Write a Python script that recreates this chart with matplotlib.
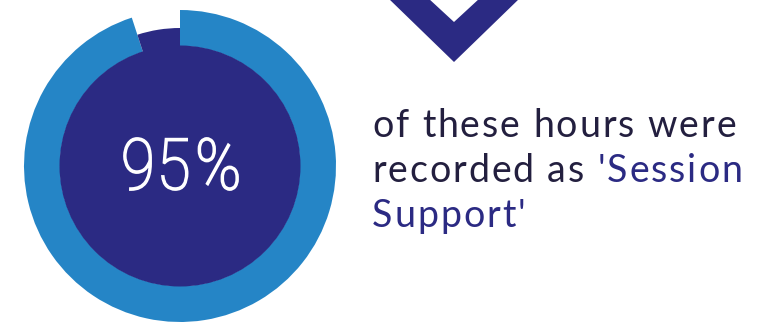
import matplotlib.pyplot as plt
from matplotlib.patches import Circle, Polygon, PathPatch
from matplotlib.textpath import TextPath
from matplotlib.font_manager import FontProperties
from matplotlib.transforms import Affine2D

# share of recorded hours
share = [95, 5]
big_label = "95%"
line1 = "of these hours were"
line2a = "recorded as "
line2b = "'Session"
line3 = "Support'"

blue = "#2585c6"
navy = "#2b2a83"
ink = "#231f3f"

W, H = 757, 322
fig = plt.figure(figsize=(W / 100, H / 100), dpi=100)
ax = fig.add_axes([0, 0, 1, 1])

cx, cy = 180, H - 166

# ring: main share in light blue, the rest as a thinner navy band
wedges, _ = ax.pie(share, colors=[blue, navy], startangle=90, counterclock=False,
                   radius=156, center=(cx, cy), wedgeprops=dict(width=36, linewidth=0),
                   frame=True)
wedges[1].set_radius(138)
wedges[1].set_width(30)
ax.set_xlim(0, W)
ax.set_ylim(0, H)
ax.set_aspect("equal")
ax.axis("off")

ax.add_patch(Circle((cx, cy), 120.5, color=navy, lw=0, zorder=3))

# big number: condensed glyphs with some air between them
fp = FontProperties(family="Roboto", weight="light")
nine = TextPath((0, 0), "9", size=66, prop=fp).get_extents()
sy = 52 / nine.height
sx = 27 / nine.width
gap = 11
paths = []
xpos = 0
for c in big_label:
    p = TextPath((0, 0), c, size=66, prop=fp)
    e = p.get_extents()
    p = Affine2D().translate(-e.x0, -nine.y0).scale(sx, sy).translate(xpos, 0).transform_path(p)
    paths.append(p)
    xpos += e.width * sx + gap
total = xpos - gap
for p in paths:
    p = Affine2D().translate(181 - total / 2, H - 190).transform_path(p)
    ax.add_patch(PathPatch(p, color="white", lw=1.3, zorder=4))

# chevron pointing down
tx, ty = 454, H - 62
chev = Polygon([(tx - 66, H + 2), (tx - 26, H + 2), (tx, H - 22), (tx + 26, H + 2),
                (tx + 66, H + 2), (tx, ty)], closed=True, color=navy, lw=0)
ax.add_patch(chev)

# caption, drawn letter by letter to open up the spacing
font = dict(fontsize=27, family="Lato", va="baseline")
renderer = fig.canvas.get_renderer()


def width(s):
    t = ax.text(0, 0, s, **font)
    w = t.get_window_extent(renderer).width
    t.remove()
    return w


base = width("HH")
adv = {}


def spaced(x, y, s, color, track=1.9):
    for c in s:
        if c not in adv:
            adv[c] = width("H" + c + "H") - base
        ax.text(x, y, c, color=color, **font)
        x += adv[c] + track
    return x


x0 = 372
spaced(x0, H - 137, line1, ink)
x = spaced(x0, H - 182, line2a, ink)
spaced(x, H - 182, line2b, navy)
spaced(x0, H - 227, line3, navy)

fig.savefig("out.png", dpi=100)
